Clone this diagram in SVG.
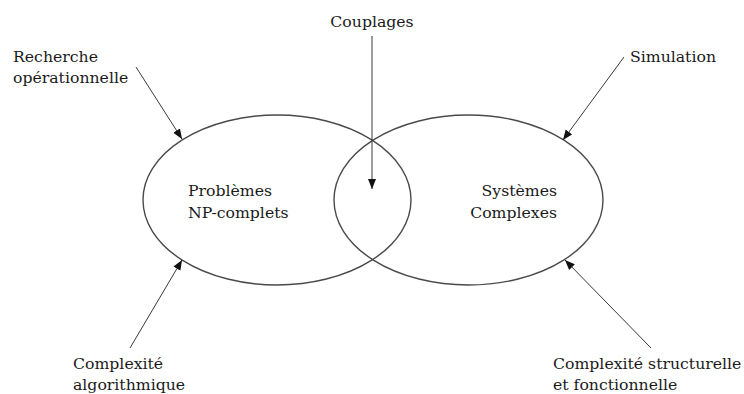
<svg xmlns="http://www.w3.org/2000/svg" width="744" height="394" viewBox="0 0 744 394">
<style>
text{font-family:"DejaVu Serif","Liberation Serif",serif;font-size:15.7px;fill:#1a1a1a}
.ell{fill:none;stroke:#4a4a4a;stroke-width:1.4}
.arr{stroke:#3a3a3a;stroke-width:1;fill:none;marker-end:url(#ah)}
</style>
<defs>
<marker id="ah" viewBox="0 0 10 10" refX="10" refY="5" markerWidth="10" markerHeight="10" markerUnits="userSpaceOnUse" orient="auto">
<path d="M0,1 L10,5 L0,9 Z" fill="#111"/>
</marker>
</defs>
<rect width="744" height="394" fill="#fff"/>
<g id="np">
<ellipse class="ell" cx="277" cy="200" rx="134" ry="85"/>
<text x="188" y="196">Problèmes</text>
<text x="188" y="218">NP-complets</text>
</g>
<g id="sc">
<ellipse class="ell" cx="468.5" cy="200" rx="134.5" ry="85"/>
<text x="557" y="196" text-anchor="end">Systèmes</text>
<text x="557" y="218" text-anchor="end">Complexes</text>
</g>
<g id="couplages"><text x="372" y="27" text-anchor="middle">Couplages</text></g>
<g id="recherche"><text x="13" y="62">Recherche</text><text x="13" y="83">opérationnelle</text></g>
<g id="simulation"><text x="630" y="62">Simulation</text></g>
<g id="algo"><text x="73" y="369">Complexité</text><text x="73" y="390">algorithmique</text></g>
<g id="struct"><text x="553" y="369">Complexité structurelle</text><text x="553" y="390">et fonctionnelle</text></g>
<g id="connectors">
<line class="arr" x1="372" y1="36" x2="372" y2="189"/>
<line class="arr" x1="136" y1="67" x2="182" y2="139"/>
<line class="arr" x1="624" y1="57" x2="563" y2="140"/>
<line class="arr" x1="130" y1="348" x2="182" y2="260"/>
<line class="arr" x1="651" y1="348" x2="565" y2="260"/>
</g>
</svg>
